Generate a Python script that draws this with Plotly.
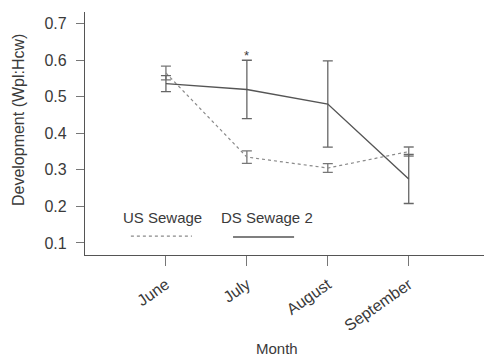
import plotly.graph_objects as go

months = ["June", "July", "August", "September"]
us_sewage = [0.565, 0.335, 0.305, 0.350]
us_err = [0.019, 0.017, 0.012, 0.0125]
ds_sewage2 = [0.536, 0.520, 0.480, 0.275]
ds_err = [0.022, 0.080, 0.118, 0.067]
y_ticks = [0.1, 0.2, 0.3, 0.4, 0.5, 0.6, 0.7]

FONT = "Liberation Sans, Arial, sans-serif"
TXT = "#3a3a3a"
FS = 15

fig = go.Figure()
fig.add_trace(go.Scatter(
    x=months, y=us_sewage, mode="lines", name="US Sewage",
    line=dict(color="#8a8a8a", width=1.2, dash="dot"),
    error_y=dict(type="data", array=us_err, visible=True, color="#777777", thickness=1.3, width=5),
    showlegend=False))
fig.add_trace(go.Scatter(
    x=months, y=ds_sewage2, mode="lines", name="DS Sewage 2",
    line=dict(color="#555555", width=1.4),
    error_y=dict(type="data", array=ds_err, visible=True, color="#666666", thickness=1.3, width=5),
    showlegend=False))

annotations = [
    dict(x="July", y=0.612, xref="x", yref="y", text="*", showarrow=False,
         xanchor="center", yanchor="middle",
         font=dict(size=13, color=TXT, family=FONT)),
    dict(x=0.193, y=0.156, xref="paper", yref="paper", text="US Sewage", showarrow=False,
         xanchor="center", yanchor="middle",
         font=dict(size=FS, color=TXT, family=FONT)),
    dict(x=0.456, y=0.156, xref="paper", yref="paper", text="DS Sewage 2", showarrow=False,
         xanchor="center", yanchor="middle",
         font=dict(size=FS, color=TXT, family=FONT)),
    dict(x=0.48, y=-0.385, xref="paper", yref="paper", text="Month", showarrow=False,
         xanchor="center", yanchor="middle",
         font=dict(size=FS, color=TXT, family=FONT)),
    dict(x=-0.165, y=0.556, xref="paper", yref="paper", text="Development (Wpl:Hcw)",
         showarrow=False, textangle=-90, xanchor="center", yanchor="middle",
         font=dict(size=16, color=TXT, family=FONT)),
]
shapes = [
    dict(type="line", xref="paper", yref="paper", x0=0.115, x1=0.268, y0=0.078, y1=0.078,
         line=dict(color="#8a8a8a", width=1.2, dash="dot")),
    dict(type="line", xref="paper", yref="paper", x0=0.371, x1=0.524, y0=0.074, y1=0.074,
         line=dict(color="#555555", width=1.4)),
]

fig.update_layout(
    width=484, height=359,
    margin=dict(l=85, r=0, t=12, b=104),
    paper_bgcolor="white", plot_bgcolor="white",
    font=dict(family=FONT, size=FS, color=TXT),
    annotations=annotations, shapes=shapes,
    xaxis=dict(type="category", range=[-1, 3.93], showgrid=False, zeroline=False,
               showline=True, linecolor="#555555", linewidth=1.2,
               ticks="outside", ticklen=10, tickcolor="#777777", tickwidth=1.2,
               tickangle=-35, ticklabelstandoff=3, tickfont=dict(size=16, color=TXT)),
    yaxis=dict(range=[0.067, 0.732], tickvals=y_ticks, ticktext=[f"{v:.1f}" for v in y_ticks],
               showgrid=False, zeroline=False,
               showline=True, linecolor="#555555", linewidth=1.2,
               ticks="outside", ticklen=8, tickcolor="#777777", tickwidth=1.2,
               ticklabelstandoff=6, tickfont=dict(size=16, color=TXT)),
)

fig.write_html("out.html")
